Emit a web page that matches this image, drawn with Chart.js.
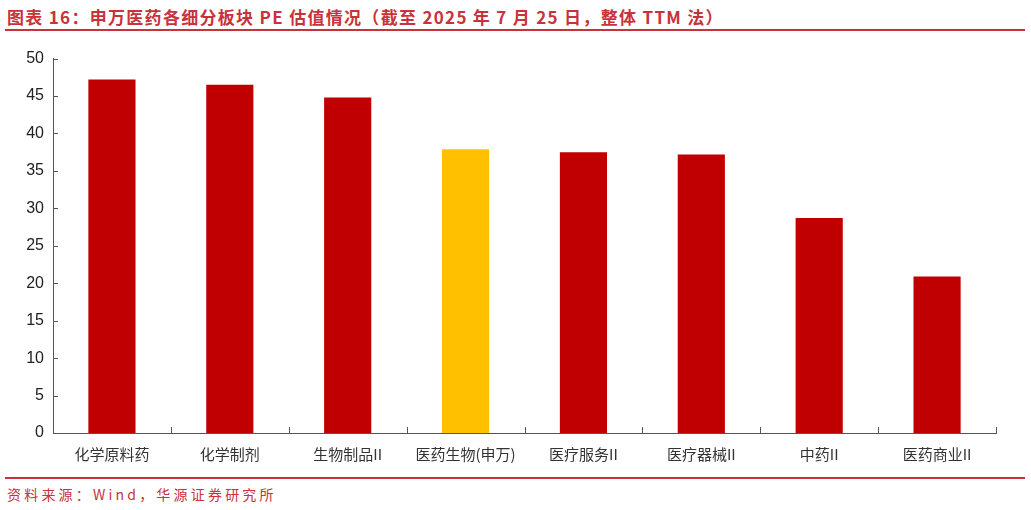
<!DOCTYPE html>
<html lang="zh">
<head>
  <meta charset="UTF-8" />
  <title>申万医药各细分板块 PE 估值情况</title>
  <script src="https://cdn.jsdelivr.net/npm/chart.js"></script>
  <style>
    body { margin: 0; background: #fff; width: 1031px; height: 510px; position: relative; overflow: hidden }
    .title { position: absolute; left: 7px; top: 4px; font: bold 17px 'Noto Sans CJK SC', sans-serif; color: #c8323c; white-space: nowrap; letter-spacing: 1.3px }
    .rule { position: absolute; left: 5px; right: 6px; background: #c8323c }
    .src { position: absolute; left: 7px; top: 484px; font: 14px 'Noto Sans CJK SC', sans-serif; color: #c8323c; letter-spacing: 3.2px }
    .box { position: absolute; left: 0; top: 40px; width: 1031px; height: 430px }
  </style>
</head>
<body>
  <div class="title">图表 16：申万医药各细分板块 PE 估值情况（截至 2025 年 7 月 25 日，整体 TTM 法）</div>
  <div class="rule" style="top:29px;height:2px"></div>
  <div class="box"><canvas id="peChart"></canvas></div>
  <div class="rule" style="top:477px;height:1.5px"></div>
  <div class="src">资料来源：Wind，华源证券研究所</div>

  <script>
    // 板块名称与 PE 值
    const sectors = ['化学原料药', '化学制剂', '生物制品II', '医药生物(申万)', '医疗服务II', '医疗器械II', '中药II', '医药商业II'];
    const peValues = [47.2, 46.5, 44.8, 37.9, 37.5, 37.2, 28.7, 20.9];
    const yTicks = [0, 5, 10, 15, 20, 25, 30, 35, 40, 45, 50];
    const highlight = '医药生物(申万)';

    // inward tick marks on both axes
    const innerTicks = {
      id: 'innerTicks',
      afterDraw(chart) {
        const { ctx, chartArea: a, scales: { x, y } } = chart;
        ctx.save();
        ctx.strokeStyle = '#555';
        ctx.lineWidth = 1;
        ctx.beginPath();
        for (let i = 0; i <= sectors.length; i++) {
          const px = Math.round(x.getPixelForValue(i - 0.5)) + 0.5;
          ctx.moveTo(px, a.bottom);
          ctx.lineTo(px, a.bottom - 6);
        }
        for (const v of yTicks) {
          const py = Math.round(y.getPixelForValue(v)) + 0.5;
          ctx.moveTo(a.left, py);
          ctx.lineTo(a.left + 5, py);
        }
        ctx.stroke();
        ctx.restore();
      }
    };

    new Chart(document.getElementById('peChart'), {
      type: 'bar',
      data: {
        labels: sectors,
        datasets: [{
          data: peValues,
          backgroundColor: sectors.map(s => s === highlight ? '#ffc000' : '#c00000'),
          categoryPercentage: 1,
          barPercentage: 0.4
        }]
      },
      options: {
        responsive: true,
        maintainAspectRatio: false,
        animation: false,
        layout: { padding: { top: 17, right: 35, bottom: 0, left: 0 } },
        plugins: { legend: { display: false }, tooltip: { enabled: false } },
        scales: {
          x: {
            grid: { display: false, drawTicks: false },
            border: { color: '#555', width: 1 },
            ticks: { padding: 12, color: '#333', font: { family: "'Noto Sans CJK SC', serif", size: 15 }, maxRotation: 0, autoSkip: false },
            afterFit: s => { s.height = 37; }
          },
          y: {
            min: 0, max: 50,
            grid: { display: false, drawTicks: false },
            border: { color: '#555', width: 1 },
            afterBuildTicks: s => { s.ticks = yTicks.map(v => ({ value: v })); },
            ticks: { padding: 9, color: '#222', font: { family: "'Liberation Sans', Arial, sans-serif", size: 16 } },
            afterFit: s => { s.width = 53; }
          }
        }
      },
      plugins: [innerTicks]
    });
  </script>
</body>
</html>
